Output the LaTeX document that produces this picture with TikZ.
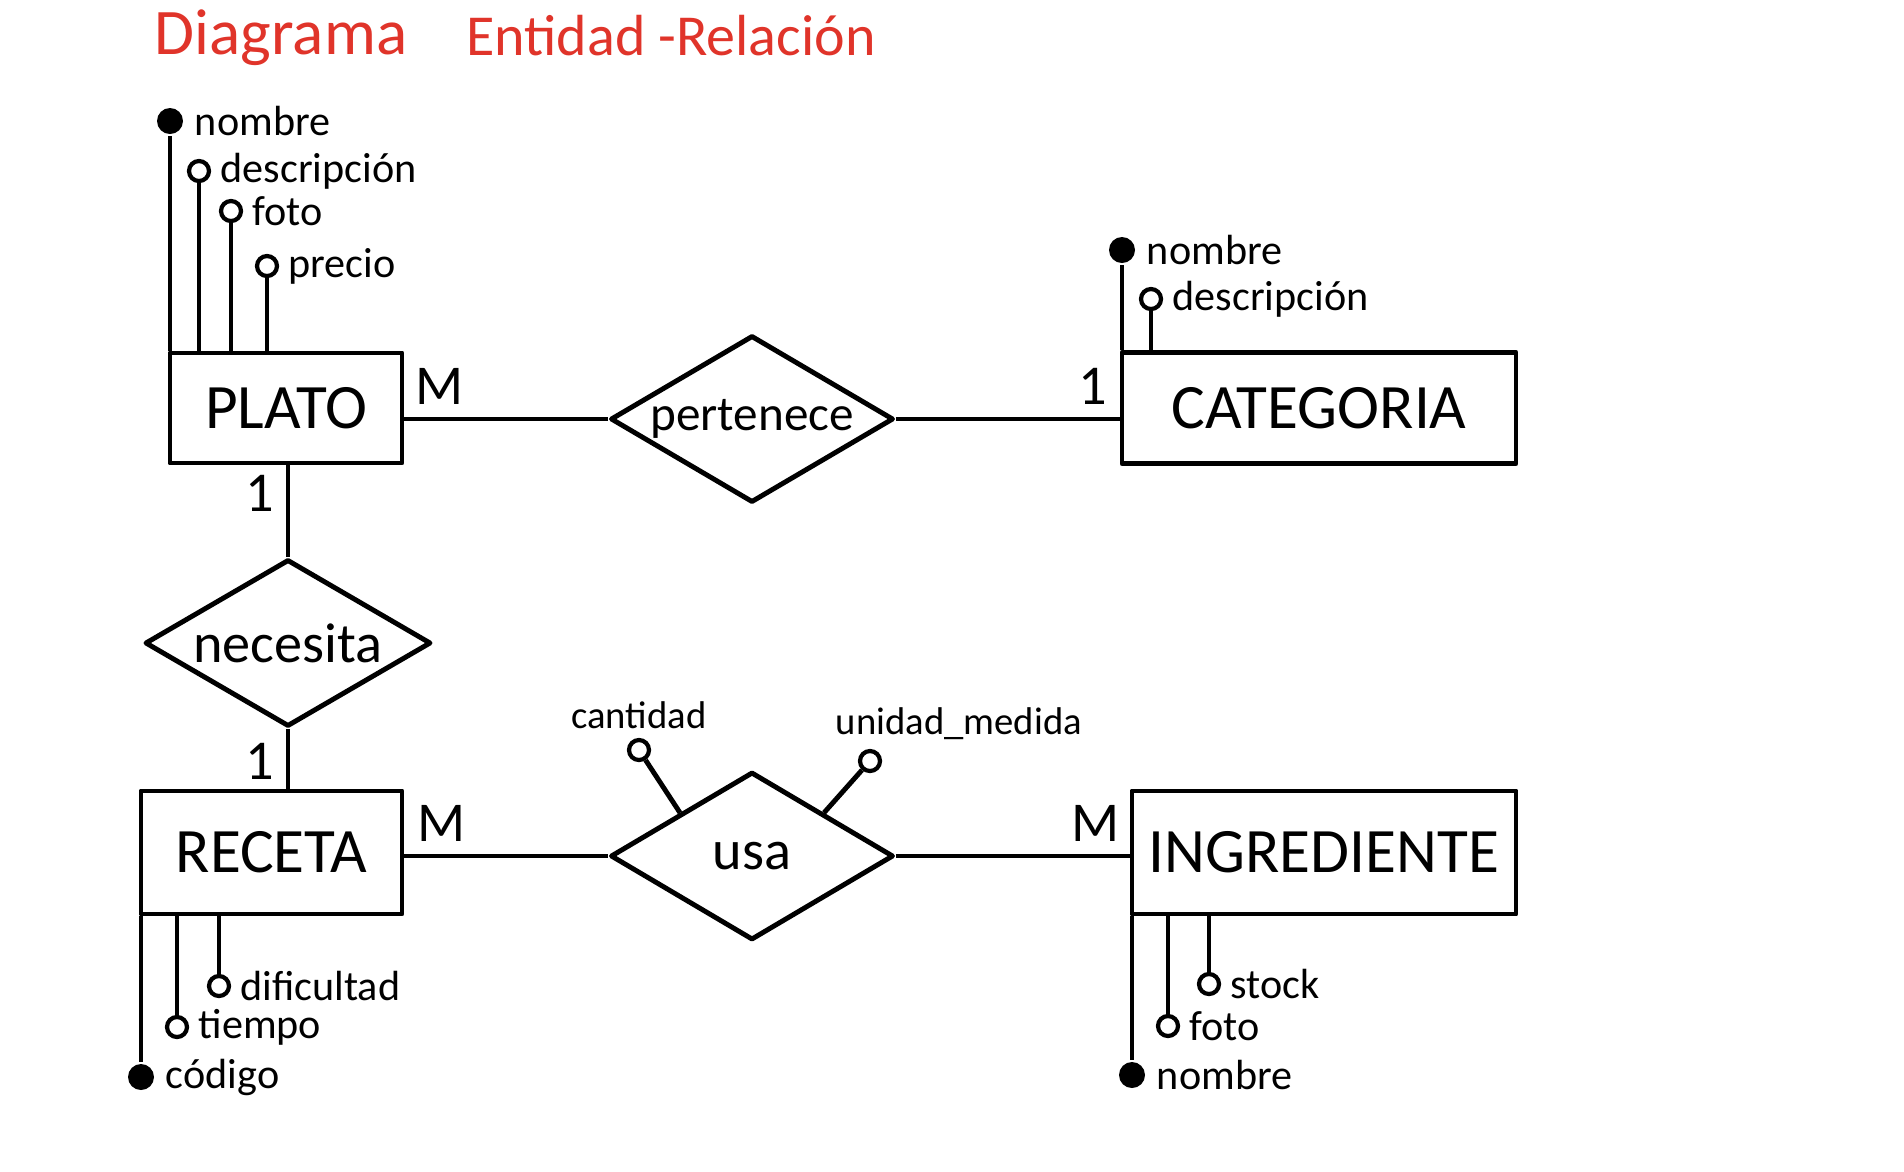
\documentclass[tikz,border=0pt]{standalone}
\usepackage{fontspec}
\setmainfont{Carlito}
\usepackage{tikz}
\usetikzlibrary{positioning,shapes.geometric}
\usepackage{xcolor}
\definecolor{titlered}{RGB}{224,52,42}

\begin{document}
\begin{tikzpicture}[line width=1.4pt, line join=round,
    title/.style={text=titlered, font=\fontsize{18.5}{22}\selectfont},
    entity/.style={draw, rectangle, inner sep=0pt, font=\fontsize{18}{21}\selectfont},
    relation/.style={draw, diamond, inner sep=0pt, font=\fontsize{16}{19}\selectfont},
    keyatt/.style={circle, fill=black, inner sep=0pt, minimum size=0.26cm},
    att/.style={circle, draw, fill=white, inner sep=0pt, minimum size=0.2cm, line width=1.2pt},
    card/.style={font=\fontsize{16}{19}\selectfont},
    smalllabel/.style={font=\fontsize{11}{13}\selectfont},
    every label/.style={font=\fontsize{12}{14}\selectfont, inner sep=2pt}]
            \useasboundingbox (0,0) rectangle (19.04,-11.71);
            % titulo
            \node[title](tit1) at (2.81,-0.38){Diagrama};
            \node[title, font=\fontsize{16.5}{20}\selectfont](tit2) at (6.71,-0.36){Entidad -Relación};
            % entidades
            \node[entity, minimum width=2.32cm, minimum height=1.10cm](plato) at (2.86,-4.08){PLATO};
            \node[entity, minimum width=3.94cm, minimum height=1.11cm](cat) at (13.19,-4.08){CATEGORIA};
            \node[entity, minimum width=2.61cm, minimum height=1.23cm](receta) at (2.715,-8.525){RECETA};
            \node[entity, minimum width=3.84cm, minimum height=1.23cm](ingr) at (13.24,-8.525){INGREDIENTE};
            % relaciones
            \node[relation, font=\fontsize{14}{17}\selectfont, minimum width=2.83cm, minimum height=1.67cm](pert) at (7.52,-4.19){\makebox[0pt]{pertenece}};
            \node[relation, minimum width=2.86cm, minimum height=1.67cm](nec) at (2.88,-6.43){\makebox[0pt]{necesita}};
            \node[relation, minimum width=2.83cm, minimum height=1.68cm](usa) at (7.52,-8.56){\makebox[0pt]{usa}};
            % atributos
            \node[keyatt, label=right:nombre](pn) at (1.70,-1.21){};
            \node[att, label=right:descripción](pd) at (1.99,-1.71){};
            \node[att, label=right:foto](pf) at (2.31,-2.11){};
            \node[att, label=right:precio](pp) at (2.67,-2.66){};
            \node[keyatt, label=right:nombre](cn) at (11.22,-2.50){};
            \node[att, label=right:descripción](cd) at (11.51,-2.99){};
            \node[att, label=right:dificultad](rd) at (2.19,-9.86){};
            \node[att, label=right:tiempo](rt) at (1.77,-10.27){};
            \node[keyatt, label=right:código](rc) at (1.41,-10.77){};
            \node[att, label=right:stock](is) at (12.09,-9.84){};
            \node[att, label=right:foto](if) at (11.68,-10.26){};
            \node[keyatt, label=right:nombre](in) at (11.32,-10.75){};
            \node[att, label={[smalllabel]above:cantidad}](uc) at (6.39,-7.50){};
            \node[att, label={[smalllabel, xshift=0.89cm]above:unidad\_medida}](uu) at (8.70,-7.61){};
            \draw (pn) -- (pn |- plato.north);
            \draw (pd) -- (pd |- plato.north);
            \draw (pf) -- (pf |- plato.north);
            \draw (pp) -- (pp |- plato.north);
            \draw (cn) -- (cn |- cat.north);
            \draw (cd) -- (cd |- cat.north);
            \draw (rd) -- (rd |- receta.south);
            \draw (rt) -- (rt |- receta.south);
            \draw (rc) -- (rc |- receta.south);
            \draw (is) -- (is |- ingr.south);
            \draw (if) -- (if |- ingr.south);
            \draw (in) -- (in |- ingr.south);
            \draw (uc) -- (usa.north west);
            \draw (uu) -- (usa.north east);
            % relaciones con cardinalidad
            \path (plato.east |- pert.west) edge node[card, pos=.17, above, name=c1]{M} (pert.west);
            \path (pert.east) edge node[card, pos=.88, above, name=c2]{1} (pert.east -| cat.west);
            \path (plato.south -| nec.north) edge node[card, pos=.3, left, name=c3]{1} (nec.north);
            \path (nec.south) edge node[card, pos=.55, left, name=c4]{1} (nec.south |- receta.north);
            \path (receta.east |- usa.west) edge node[card, pos=.18, above, name=c5]{M} (usa.west);
            \path (usa.east) edge node[card, pos=.855, above, name=c6]{M} (usa.east -| ingr.west);
            \end{tikzpicture}
\end{document}
